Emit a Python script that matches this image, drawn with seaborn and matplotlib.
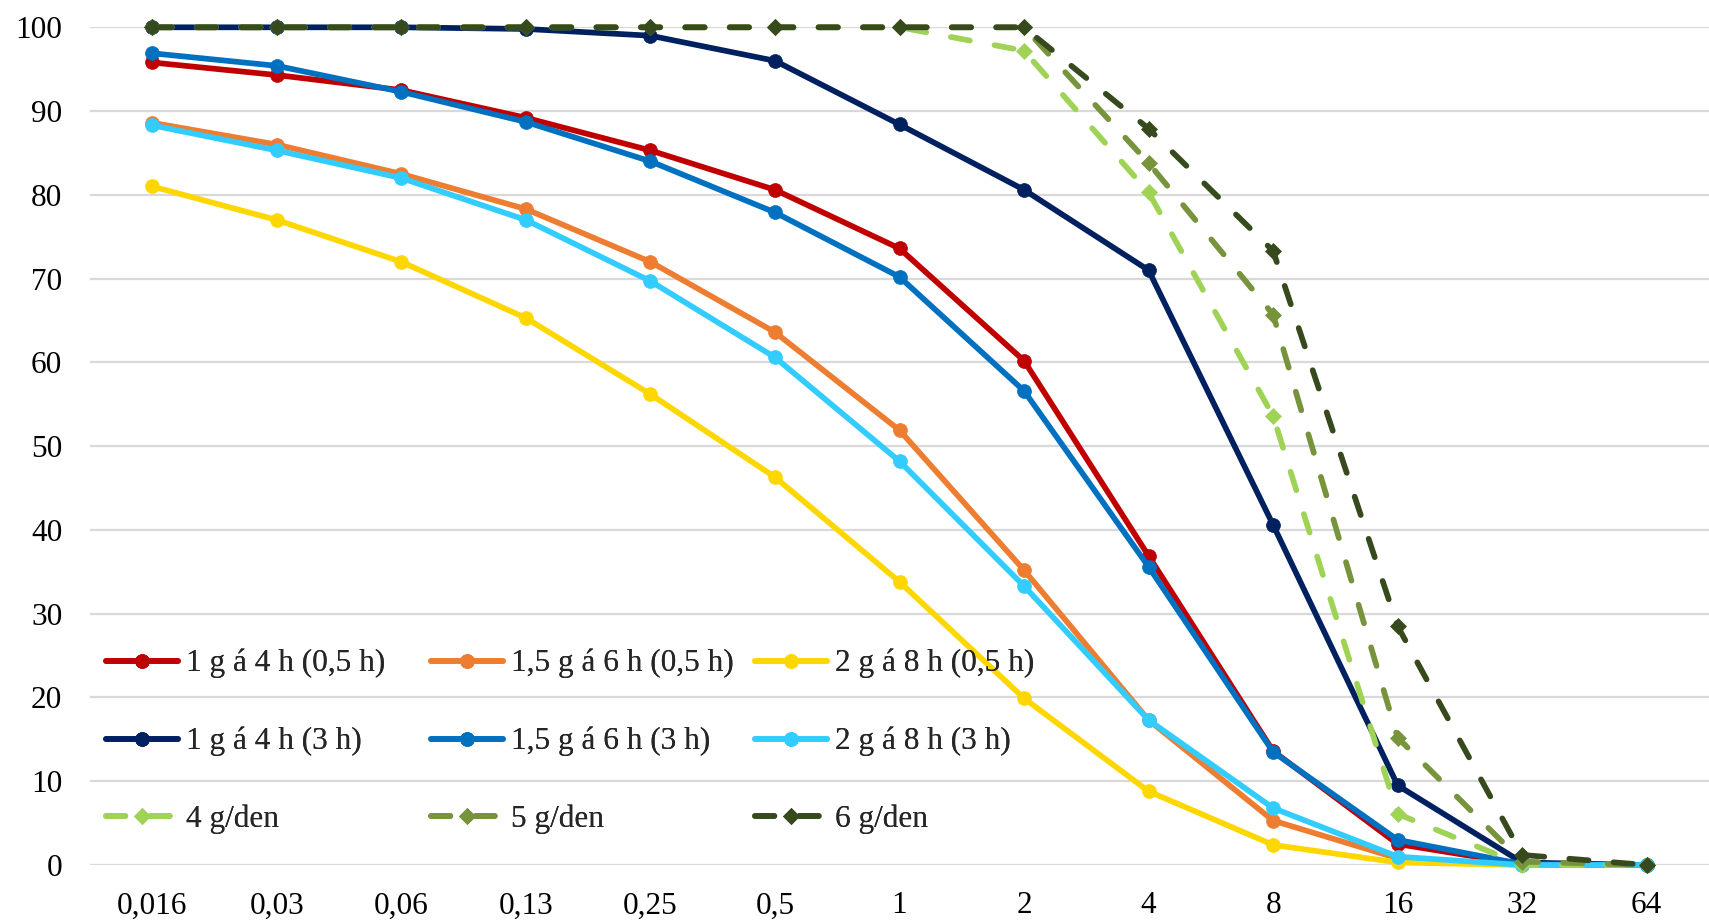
import matplotlib
matplotlib.use("Agg")
import matplotlib.pyplot as plt
import numpy as np
import pandas as pd
import seaborn as sns

# Category axis (concentration steps)
concentrations = ["0,016", "0,03", "0,06", "0,13", "0,25", "0,5", "1", "2",
                  "4", "8", "16", "32", "64"]

# Percentage of time above threshold for each dosing regimen
g1_4h_05 = [95.8, 94.3, 92.5, 89.2, 85.3, 80.6, 73.6, 60.2, 36.9, 13.6, 2.5, 0.1, 0.0]
g15_6h_05 = [88.6, 86.0, 82.5, 78.3, 72.0, 63.6, 51.9, 35.2, 17.3, 5.3, 0.8, 0.0, 0.0]
g2_8h_05 = [81.0, 77.0, 72.0, 65.3, 56.2, 46.3, 33.8, 19.9, 8.8, 2.4, 0.3, 0.0, 0.0]
g1_4h_3 = [100.0, 100.0, 100.0, 99.8, 99.0, 96.0, 88.4, 80.6, 71.0, 40.6, 9.5, 0.3, 0.0]
g15_6h_3 = [96.9, 95.4, 92.3, 88.7, 84.0, 77.9, 70.2, 56.6, 35.6, 13.5, 3.0, 0.1, 0.0]
g2_8h_3 = [88.3, 85.3, 82.0, 77.0, 69.7, 60.6, 48.2, 33.3, 17.3, 6.8, 1.0, 0.0, 0.0]
g4_den = [100.0, 100.0, 100.0, 100.0, 100.0, 100.0, 100.0, 97.2, 80.3, 53.6, 6.1, 0.0, 0.0]
g5_den = [100.0, 100.0, 100.0, 100.0, 100.0, 100.0, 100.0, 100.0, 83.8, 65.7, 15.2, 0.4, 0.0]
g6_den = [100.0, 100.0, 100.0, 100.0, 100.0, 100.0, 100.0, 100.0, 87.9, 73.3, 28.5, 1.2, 0.0]

series_labels = ["1 g á 4 h (0,5 h)", "1,5 g á 6 h (0,5 h)", "2 g á 8 h (0,5 h)",
                 "1 g á 4 h (3 h)", "1,5 g á 6 h (3 h)", "2 g á 8 h (3 h)",
                 "4 g/den", "5 g/den", "6 g/den"]
series_values = [g1_4h_05, g15_6h_05, g2_8h_05, g1_4h_3, g15_6h_3, g2_8h_3,
                 g4_den, g5_den, g6_den]
series_colors = ["#C00000", "#ED7D31", "#FFD700", "#002060", "#0070C0", "#33CCFF",
                 "#9FD356", "#77933C", "#374A1E"]
series_dashed = [False] * 6 + [True] * 3

rows = []
for lab, vals in zip(series_labels, series_values):
    for i, v in enumerate(vals):
        rows.append({"pos": i, "value": v, "series": lab})
df = pd.DataFrame(rows)

sns.set_style("white")
plt.rcParams["font.family"] = ["Liberation Serif", "DejaVu Serif"]
FS = 22.5

fig = plt.figure(figsize=(17.09, 9.21), dpi=100)
ax = fig.add_axes([90 / 1709, 56 / 921, 1 - 90 / 1709, (865 - 27.3) / 921])

for lab, col, dashed in zip(series_labels, series_colors, series_dashed):
    sub = df[df["series"] == lab]
    kws = dict(color=col, lw=4.1, clip_on=False, label=lab,
               markeredgecolor=col, markeredgewidth=0.5,
               solid_capstyle="round", dash_capstyle="round", zorder=3)
    if dashed:
        kws.update(marker="D", markersize=8.0, linestyle=(0, (3.4, 4.4)))
    else:
        kws.update(marker="o", markersize=10)
    sns.lineplot(data=sub, x="pos", y="value", ax=ax, legend=False, **kws)

ax.set_xlim(-0.5, len(concentrations) - 0.5)
ax.set_ylim(0, 100)
ax.set_xticks(np.arange(len(concentrations)))
ax.set_xticklabels(concentrations)
ax.set_yticks(np.arange(0, 101, 10))
ax.set_xlabel("")
ax.set_ylabel("")
ax.tick_params(axis="both", length=0, labelsize=FS, colors="black")
ax.tick_params(axis="x", pad=19)
ax.tick_params(axis="y", pad=20)
ax.yaxis.grid(True, color="#D9D9D9", lw=1.6)
ax.xaxis.grid(False)
ax.set_axisbelow(True)
for sp in ax.spines.values():
    sp.set_visible(False)

# Three-column legend, one legend object per column for even column spacing
handles, labels = ax.get_legend_handles_labels()
col_x = [106, 431, 755]
for c in range(3):
    idx = [c, c + 3, c + 6]
    leg = fig.legend([handles[i] for i in idx], [labels[i] for i in idx],
                     loc="upper left", bbox_to_anchor=(col_x[c] / 1709, 1 - 649 / 921),
                     bbox_transform=fig.transFigure, frameon=False, fontsize=FS,
                     handlelength=2.3, handletextpad=0.26, labelspacing=1.55,
                     borderpad=0, borderaxespad=0, numpoints=1)
    fig.add_artist(leg)

fig.savefig("out.png", dpi=100)
